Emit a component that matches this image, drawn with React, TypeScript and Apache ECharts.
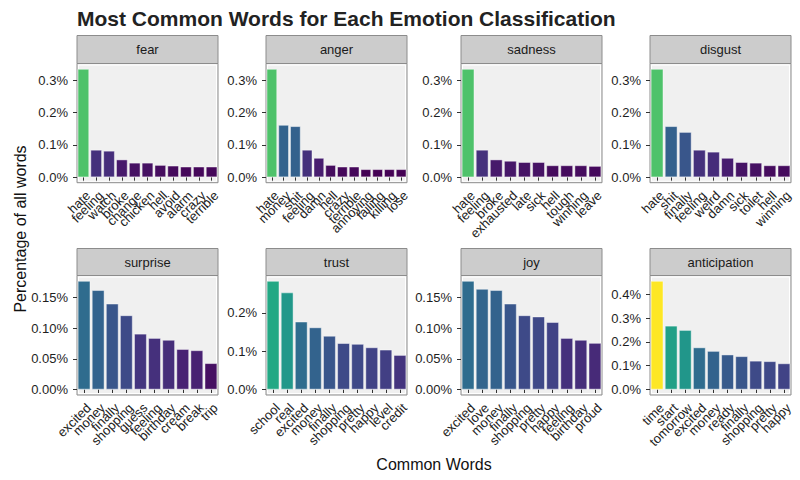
import React, { useEffect, useRef } from "react";
import * as echarts from "echarts";

// ---------- data ----------
const emotions = ["fear", "anger", "sadness", "disgust", "surprise", "trust", "joy", "anticipation"];

const fearWords = ["hate", "feeling", "watch", "broke", "change", "chicken", "hell", "avoid", "alarm", "crazy", "terrible"];
const fearValues = [0.335, 0.085, 0.082, 0.055, 0.045, 0.045, 0.038, 0.036, 0.033, 0.033, 0.033];

const angerWords = ["hate", "money", "shit", "feeling", "damn", "hell", "crazy", "terrible", "annoying", "failing", "killing", "lose"];
const angerValues = [0.335, 0.162, 0.158, 0.085, 0.06, 0.038, 0.033, 0.033, 0.025, 0.025, 0.025, 0.025];

const sadnessWords = ["hate", "feeling", "broke", "exhausted", "late", "sick", "hell", "tough", "winning", "leave"];
const sadnessValues = [0.335, 0.085, 0.055, 0.051, 0.047, 0.047, 0.037, 0.037, 0.037, 0.035];

const disgustWords = ["hate", "shit", "finally", "feeling", "weird", "damn", "sick", "toilet", "hell", "winning"];
const disgustValues = [0.335, 0.158, 0.14, 0.085, 0.079, 0.06, 0.047, 0.045, 0.037, 0.037];

const surpriseWords = ["excited", "money", "finally", "shopping", "guess", "feeling", "birthday", "cream", "break", "trip"];
const surpriseValues = [0.177, 0.162, 0.14, 0.121, 0.091, 0.084, 0.081, 0.066, 0.064, 0.043];

const trustWords = ["school", "real", "excited", "money", "finally", "shopping", "pretty", "happy", "level", "credit"];
const trustValues = [0.283, 0.253, 0.177, 0.162, 0.14, 0.121, 0.119, 0.11, 0.104, 0.09];

const joyWords = ["excited", "love", "money", "finally", "shopping", "pretty", "happy", "feeling", "birthday", "proud"];
const joyValues = [0.177, 0.164, 0.162, 0.14, 0.121, 0.119, 0.11, 0.084, 0.081, 0.076];

const anticipationWords = ["time", "start", "tomorrow", "excited", "money", "ready", "finally", "shopping", "pretty", "happy"];
const anticipationValues = [0.456, 0.268, 0.25, 0.177, 0.162, 0.147, 0.14, 0.121, 0.119, 0.11];

const fearTicks = [0, 0.1, 0.2, 0.3];
const angerTicks = [0, 0.1, 0.2, 0.3];
const sadnessTicks = [0, 0.1, 0.2, 0.3];
const disgustTicks = [0, 0.1, 0.2, 0.3];
const surpriseTicks = [0, 0.05, 0.1, 0.15];
const trustTicks = [0, 0.1, 0.2];
const joyTicks = [0, 0.05, 0.1, 0.15];
const anticipationTicks = [0, 0.1, 0.2, 0.3, 0.4];
const tickDecimals = [1, 1, 1, 1, 2, 1, 2, 1];

const titleText = "Most Common Words for Each Emotion Classification";
const yTitle = "Percentage of all words";
const xTitle = "Common Words";

const viridis = ["#440154", "#482475", "#414487", "#355F8D", "#2A788E", "#21918C", "#22A884", "#44BF70", "#7AD151", "#BDDF26", "#FDE725"];

const panelWords = [fearWords, angerWords, sadnessWords, disgustWords, surpriseWords, trustWords, joyWords, anticipationWords];
const panelValues = [fearValues, angerValues, sadnessValues, disgustValues, surpriseValues, trustValues, joyValues, anticipationValues];
const panelTicks = [fearTicks, angerTicks, sadnessTicks, disgustTicks, surpriseTicks, trustTicks, joyTicks, anticipationTicks];

// ---------- layout ----------
const FONT = "'Liberation Sans', Arial, Helvetica, sans-serif";
const colLeft = [77, 266, 461, 650];
const panelW = 141;
const rowTop = [63.5, 275.5];
const panelH = [119.2, 119.5];
const stripTop = [35.5, 248.5];
const stripH = [28, 27];

export default function App() {
  const ref = useRef<HTMLDivElement>(null);

  useEffect(() => {
    document.body.style.margin = "0";
    if (!ref.current) return;
    const chart = echarts.init(ref.current, null, { renderer: "svg" });

    const allVals = panelValues.flat();
    const gMin = Math.min(...allVals);
    const gMax = Math.max(...allVals);

    const grids: any[] = [];
    const xAxes: any[] = [];
    const yAxes: any[] = [];
    const series: any[] = [];
    const graphics: any[] = [];

    emotions.forEach((emo, i) => {
      const col = i % 4;
      const row = Math.floor(i / 4);
      const vmax = Math.max(...panelValues[i]);
      const dec = tickDecimals[i];
      grids.push({
        left: colLeft[col],
        top: rowTop[row],
        width: panelW,
        height: panelH[row],
        show: true,
        backgroundColor: "#F0F0F0",
        borderColor: "#8C8C8C",
        borderWidth: 1,
      });
      xAxes.push({
        type: "category",
        gridIndex: i,
        data: panelWords[i],
        axisLine: { show: false },
        axisTick: { show: true, alignWithLabel: true, length: 4, lineStyle: { color: "#333333" } },
        axisLabel: {
          interval: 0,
          rotate: 45,
          align: "right",
          verticalAlign: "top",
          fontSize: 13,
          color: "#222222",
          margin: 6,
          fontFamily: FONT,
        },
        splitLine: { show: false },
      });
      yAxes.push({
        type: "value",
        gridIndex: i,
        min: -0.05 * vmax,
        max: 1.05 * vmax,
        axisLine: { show: false },
        axisTick: { show: true, length: 4, lineStyle: { color: "#333333" }, customValues: panelTicks[i] },
        axisLabel: {
          customValues: panelTicks[i],
          formatter: (v: number) => v.toFixed(dec) + "%",
          fontSize: 13,
          color: "#1E1E1E",
          margin: 9,
          fontFamily: FONT,
        },
        splitLine: { show: false },
      });
      series.push({
        type: "bar",
        name: emo,
        xAxisIndex: i,
        yAxisIndex: i,
        data: panelValues[i],
        barCategoryGap: "10%",
        itemStyle: { borderColor: "rgba(255,255,255,0.55)", borderWidth: 0.8 },
      });
      graphics.push({
        type: "rect",
        z: 1,
        silent: true,
        shape: { x: colLeft[col] + 1.5, y: rowTop[row] + 1.5, width: panelW - 3, height: panelH[row] - 3 },
        style: { fill: "none", stroke: "#FFFFFF", lineWidth: 1 },
      });
      graphics.push({
        type: "rect",
        shape: { x: colLeft[col], y: stripTop[row], width: panelW, height: stripH[row] },
        style: { fill: "#CCCCCC", stroke: "#8C8C8C", lineWidth: 1 },
      });
      graphics.push({
        type: "text",
        x: colLeft[col] + panelW / 2,
        y: stripTop[row] + stripH[row] / 2,
        style: { text: emo, fill: "#1A1A1A", font: `13px ${FONT}`, align: "center", verticalAlign: "middle" },
      });
    });

    graphics.push({
      type: "text",
      x: 77,
      y: 18,
      style: { text: titleText, fill: "#222222", font: `bold 21px ${FONT}`, align: "left", verticalAlign: "middle" },
    });
    graphics.push({
      type: "text",
      x: 434,
      y: 464,
      style: { text: xTitle, fill: "#111111", font: `16px ${FONT}`, align: "center", verticalAlign: "middle" },
    });
    graphics.push({
      type: "text",
      x: 20,
      y: 229,
      rotation: Math.PI / 2,
      style: { text: yTitle, fill: "#111111", font: `16px ${FONT}`, align: "center", verticalAlign: "middle" },
    });

    chart.setOption({
      animation: false,
      backgroundColor: "#FFFFFF",
      textStyle: { fontFamily: FONT },
      grid: grids,
      xAxis: xAxes,
      yAxis: yAxes,
      visualMap: {
        type: "continuous",
        show: false,
        min: gMin,
        max: gMax,
        dimension: 1,
        seriesIndex: series.map((_, k) => k),
        inRange: { color: viridis },
      },
      series,
      graphic: graphics,
    });

    return () => chart.dispose();
  }, []);

  return <div ref={ref} style={{ position: "fixed", left: 0, top: 0, width: 800, height: 480 }} />;
}
